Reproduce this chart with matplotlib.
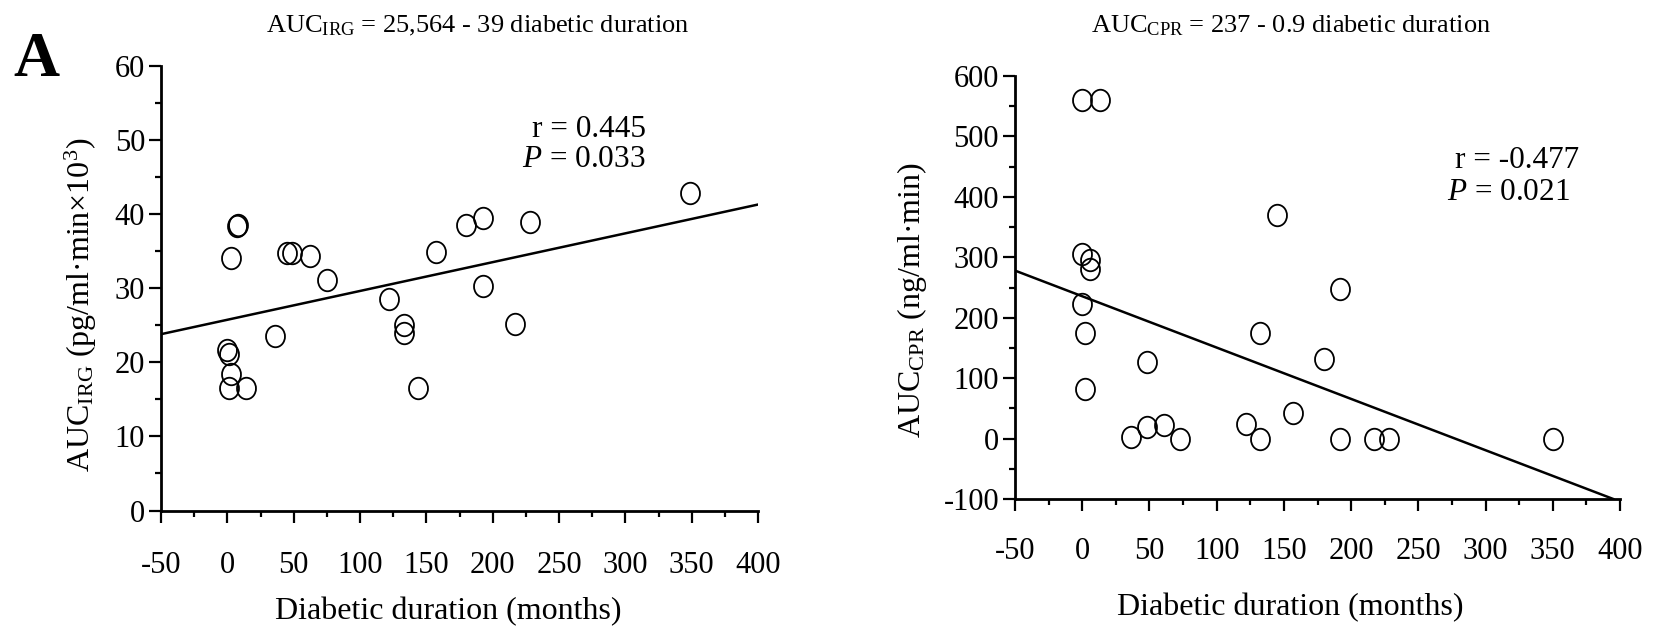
import numpy as np
import matplotlib.pyplot as plt
from matplotlib.path import Path
from matplotlib.transforms import Affine2D
from matplotlib.ticker import MultipleLocator

plt.rcParams['font.family'] = ['Liberation Serif', 'DejaVu Serif']
plt.rcParams['mathtext.fontset'] = 'custom'
plt.rcParams['mathtext.rm'] = 'Liberation Serif'
plt.rcParams['mathtext.it'] = 'Liberation Serif:italic'
plt.rcParams['mathtext.bf'] = 'Liberation Serif:bold'
plt.rcParams['axes.unicode_minus'] = False

# left panel: glucagon (IRG) vs duration
duration_irg = [8, 7, 3, 0, 1, 3, 1, 14, 36, 45, 49, 62, 75, 122, 133, 133, 144, 157, 180, 193, 193, 217, 228, 349]
auc_irg = [38.6, 38.4, 34.1, 21.6, 21.1, 18.4, 16.5, 16.5, 23.6, 34.8, 34.8, 34.4, 31.1, 28.5, 25.0, 23.9, 16.5, 34.9, 38.5, 39.5, 30.3, 25.2, 38.9, 42.8]
fit_irg_x = [-50, 400]
fit_irg_y = [23.8, 41.3]

# right panel: C-peptide (CPR) vs duration
duration_cpr = [0, 13, 0, 6, 6, 0, 2, 2, 48, 36, 48, 61, 73, 122, 132, 132, 145, 157, 180, 192, 192, 217, 228, 350]
auc_cpr = [560, 560, 305, 295, 280, 222, 174, 82, 127, 3, 19, 23, 0, 24, 174, 0, 370, 43, 131, 247, 0, 0, 0, 0]
fit_cpr_x = [-50, 395]
fit_cpr_y = [278, -100]

W, H = 1660, 628


def fx(x):
    return x / W


def fy(y):
    return 1 - y / H


# the circles in the original are slightly taller than wide
ellipse = Path.unit_circle().transformed(Affine2D().scale(0.88, 1.0))


def style_axes(ax, ylim, ymajor, yminor, xpad):
    ax.set_xlim(-50, 400)
    ax.set_ylim(*ylim)
    for s in ['top', 'right']:
        ax.spines[s].set_visible(False)
    for s in ['left', 'bottom']:
        ax.spines[s].set_linewidth(2.0)
    ax.xaxis.set_major_locator(MultipleLocator(50))
    ax.xaxis.set_minor_locator(MultipleLocator(25))
    ax.yaxis.set_major_locator(MultipleLocator(ymajor))
    ax.yaxis.set_minor_locator(MultipleLocator(yminor))
    ax.tick_params(which='major', direction='out', length=8.5, width=1.6, labelsize=22)
    ax.tick_params(which='minor', direction='out', length=4.5, width=1.6)
    ax.tick_params(axis='x', which='major', pad=xpad)
    ax.tick_params(axis='y', which='major', pad=3)


fig = plt.figure(figsize=(16.6, 6.28), dpi=100)

ax1 = fig.add_axes([161 / W, fy(510.5), 597 / W, (510.5 - 66) / H])
ax1.plot(duration_irg, auc_irg, linestyle='none', marker=ellipse, ms=15.5,
         mfc='none', mec='black', mew=1.3)
ax1.plot(fit_irg_x, fit_irg_y, color='black', lw=1.8)
style_axes(ax1, (0, 60), 10, 5, 21)

ax2 = fig.add_axes([1015 / W, fy(499), 605 / W, (499 - 76) / H])
ax2.plot(duration_cpr, auc_cpr, linestyle='none', marker=ellipse, ms=15.5,
         mfc='none', mec='black', mew=1.3)
ax2.plot(fit_cpr_x, fit_cpr_y, color='black', lw=1.8)
style_axes(ax2, (-100, 600), 100, 50, 19)

fig.text(fx(13), fy(76), 'A', fontsize=46, fontweight='bold', ha='left', va='baseline')

fig.text(fx(478), fy(32), r'AUC$_{\mathrm{IRG}}$ = 25,564 - 39 diabetic duration',
         fontsize=19, ha='center', va='baseline')
fig.text(fx(1291), fy(32), r'AUC$_{\mathrm{CPR}}$ = 237 - 0.9 diabetic duration',
         fontsize=19, ha='center', va='baseline')

fig.text(fx(81), fy(305), r'AUC$_{\mathrm{IRG}}$ (pg/ml·min×10$^{3}$)',
         fontsize=23, rotation=90, ha='center', va='center')
fig.text(fx(912), fy(300), r'AUC$_{\mathrm{CPR}}$ (ng/ml·min)',
         fontsize=23, rotation=90, ha='center', va='center')

fig.text(fx(448), fy(619), 'Diabetic duration (months)', fontsize=23, ha='center', va='baseline')
fig.text(fx(1290), fy(615), 'Diabetic duration (months)', fontsize=23, ha='center', va='baseline')

fig.text(fx(646), fy(137), 'r = 0.445', fontsize=22.5, ha='right', va='baseline')
fig.text(fx(646), fy(167), r'$P$ = 0.033', fontsize=22.5, ha='right', va='baseline')
fig.text(fx(1455), fy(168), 'r = -0.477', fontsize=22.5, ha='left', va='baseline')
fig.text(fx(1447), fy(200), r'$P$ = 0.021', fontsize=22.5, ha='left', va='baseline')

fig.savefig('out.png', dpi=100)
